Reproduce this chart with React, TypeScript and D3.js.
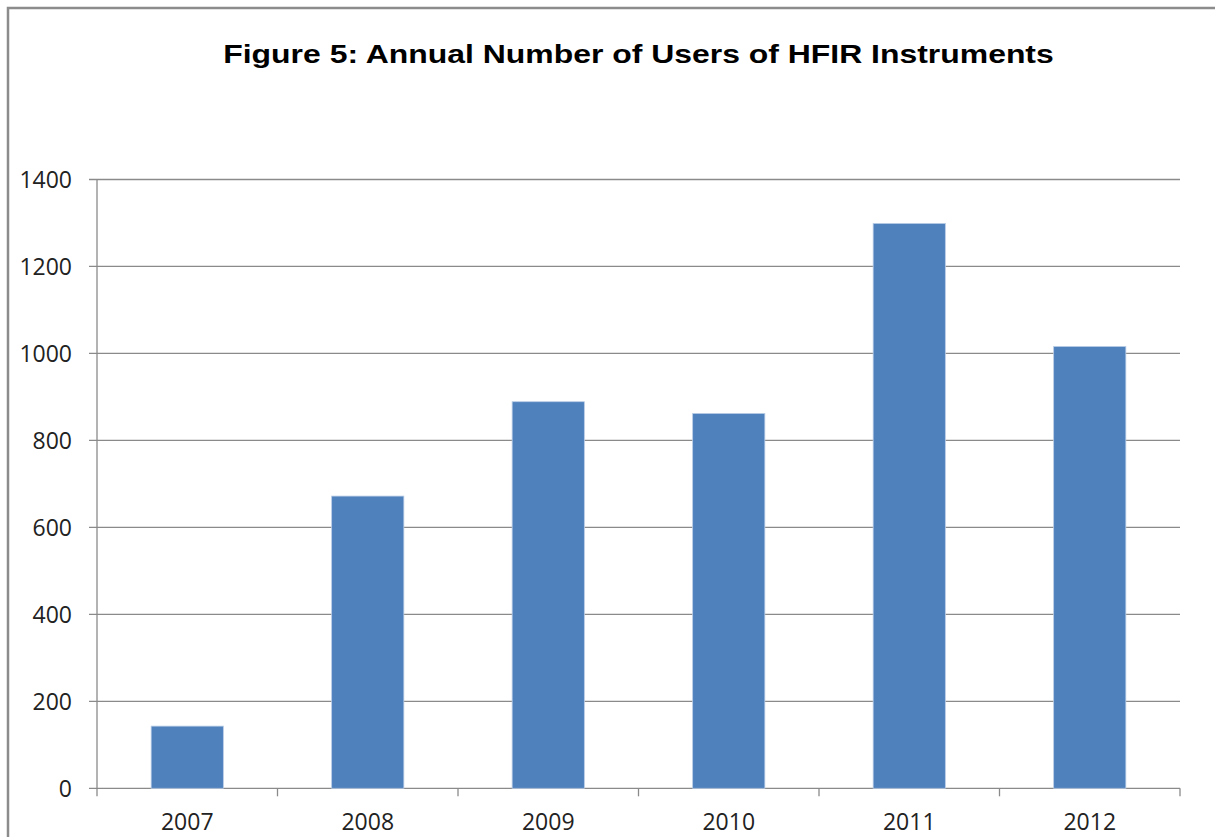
import React from "react";
import { scaleBand, scaleLinear, range } from "d3";

const years = ["2007", "2008", "2009", "2010", "2011", "2012"];
const users = [143, 672, 889, 862, 1299, 1016];
const yTicks = [0, 200, 400, 600, 800, 1000, 1200, 1400];

const App = () => {
  const width = 1215;
  const height = 837;
  const margin = { top: 179.5, right: 35, bottom: 48.7, left: 97 };
  const innerWidth = width - margin.left - margin.right;
  const innerHeight = height - margin.top - margin.bottom;

  const xScale = scaleBand().domain(years).range([0, innerWidth]).paddingInner(0.6).paddingOuter(0.3);
  const yScale = scaleLinear().domain([0, 1400]).range([innerHeight, 0]);
  const step = innerWidth / years.length;

  const grid = "#8a8a8a";
  const labelFont = "'Open Sans', sans-serif";

  return (
    <svg width={width} height={height} style={{ position: "absolute", left: 0, top: 0, background: "#fff" }}>
      <rect x={8} y={8} width={width + 20} height={height + 20} fill="#fff" stroke="#8c8c8c" strokeWidth={2.5} />
      {/* title is horizontally stretched in the source image */}
      <text
        transform="translate(638.5, 62.5) scale(1.205, 1)"
        textAnchor="middle"
        fontFamily="'Liberation Sans', Arial, sans-serif"
        fontWeight="bold"
        fontSize={26.5}
        fill="#000"
      >
        Figure 5: Annual Number of Users of HFIR Instruments
      </text>
      <g transform={`translate(${margin.left}, ${margin.top})`}>
        {yTicks.map((t) => (
          <g key={t}>
            <line x1={-8} x2={innerWidth} y1={yScale(t)} y2={yScale(t)} stroke={grid} strokeWidth={1.3} />
            <text
              x={-25}
              y={yScale(t)}
              dy="0.36em"
              textAnchor="end"
              fontFamily={labelFont}
              fontSize={23}
              fill="#222"
            >
              {t}
            </text>
          </g>
        ))}
        <line x1={0} x2={0} y1={0} y2={innerHeight} stroke={grid} strokeWidth={1.3} />
        {range(years.length + 1).map((i) => (
          <line key={i} x1={i * step} x2={i * step} y1={innerHeight} y2={innerHeight + 8} stroke={grid} strokeWidth={1.3} />
        ))}
        {years.map((d, i) => (
          <rect
            key={d}
            x={xScale(d)}
            y={yScale(users[i])}
            width={xScale.bandwidth()}
            height={innerHeight - yScale(users[i])}
            fill="#4f81bd"
            stroke="#b9cde5"
            strokeWidth={0.8}
          />
        ))}
        {years.map((d) => (
          <text
            key={d}
            x={(xScale(d) || 0) + xScale.bandwidth() / 2}
            y={innerHeight + 42}
            textAnchor="middle"
            fontFamily={labelFont}
            fontSize={23}
            fill="#222"
          >
            {d}
          </text>
        ))}
      </g>
    </svg>
  );
};

export default App;
